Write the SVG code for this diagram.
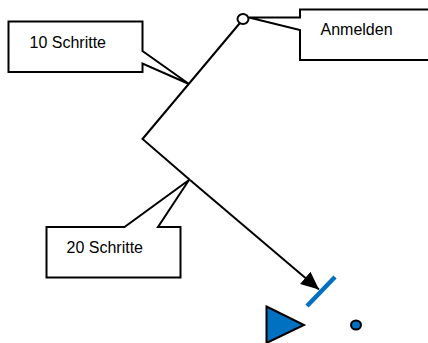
<svg xmlns="http://www.w3.org/2000/svg" width="428" height="343" viewBox="0 0 428 343">
<style>
.c{fill:#fff;stroke:#000;stroke-width:2;stroke-linejoin:miter}
.t{font-family:"Liberation Sans",Arial,sans-serif;font-size:16px;fill:#000}
.b{fill:#0070c0;stroke:#000;stroke-width:2}
</style>
<defs><marker id="a" markerUnits="userSpaceOnUse" markerWidth="20" markerHeight="18" refX="18" refY="8" orient="auto" viewBox="0 0 20 16"><path d="M0 0L18 8L0 16Z" fill="#000"/></marker></defs>
<rect width="428" height="343" fill="#fff"/>
<g id="connectors" fill="none" stroke="#000" stroke-width="2">
<path d="M239.500 23.500L142.500 139L190 180"/>
<path d="M190 180L319 289.500" marker-end="url(#a)"/>
</g>
<g id="n10"><path class="c" d="M8.500 21.500H142.500V51L189 84L142.500 63.500V72H8.500Z"/><text class="t" x="29.500" y="47.500">10 Schritte</text></g>
<g id="n-anmelden"><path class="c" d="M249 17.500H300V9.500H430V60H300V30L249 17.500Z"/><text class="t" x="320.500" y="35">Anmelden</text></g>
<g id="n20"><path class="c" d="M46.500 227H124.500L189 180L158 227H180.500V277.500H46.500Z"/><text class="t" x="66.500" y="252.500">20 Schritte</text></g>
<g id="start"><ellipse cx="243" cy="19" rx="5.500" ry="5" fill="#fff" stroke="#000" stroke-width="2"/></g>
<g id="bar"><path d="M307 306L335 277" stroke="#0070c0" stroke-width="4.500" fill="none"/></g>
<g id="triangle"><path class="b" d="M266.500 306.500L304 325L266.500 343Z"/></g>
<g id="dot"><ellipse class="b" cx="356" cy="325" rx="5" ry="4.500"/></g>
</svg>
